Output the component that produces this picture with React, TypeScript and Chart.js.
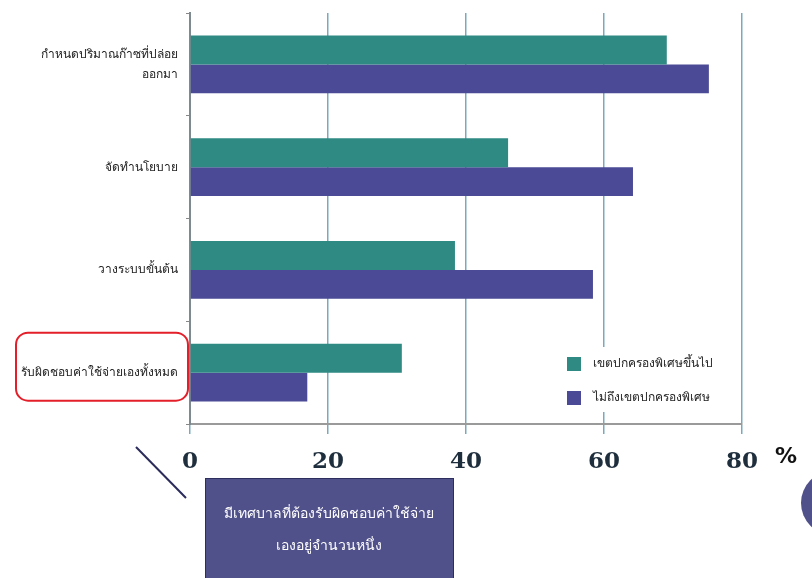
import { useEffect, useRef } from "react";
import { Chart, registerables } from "chart.js";
Chart.register(...registerables);

const categories: (string | string[])[] = [
  ["กำหนดปริมาณก๊าซที่ปล่อย", "ออกมา"],
  "จัดทำนโยบาย",
  "วางระบบขั้นต้น",
  "รับผิดชอบค่าใช้จ่ายเองทั้งหมด",
];
const seriesNames = ["เขตปกครองพิเศษขึ้นไป", "ไม่ถึงเขตปกครองพิเศษ"];
const specialAbove = [69.1, 46.1, 38.4, 30.7];
const belowSpecial = [75.2, 64.2, 58.4, 17.0];
const seriesColors = ["#2f8a84", "#4a4a96"];
const xMin = 0;
const xMax = 80;
const xStep = 20;
const unitLabel = "%";
const calloutLines = ["มีเทศบาลที่ต้องรับผิดชอบค่าใช้จ่าย", "เองอยู่จำนวนหนึ่ง"];

const THAI_FONT = "'Noto Sans', 'DejaVu Sans', sans-serif";

const decorPlugin = {
  id: "decor",
  afterDraw(chart: any) {
    const ctx: CanvasRenderingContext2D = chart.ctx;
    const ys = chart.scales.y;
    const area = chart.chartArea;
    ctx.save();

    // legend box inside chart area (bottom-right)
    const lx = area.right - 186;
    const ly = area.bottom - 77;
    ctx.fillStyle = "#ffffff";
    ctx.fillRect(lx, ly, 181, 65);
    ctx.font = `12px ${THAI_FONT}`;
    ctx.textBaseline = "middle";
    ctx.textAlign = "left";
    chart.data.datasets.forEach((ds: any, i: number) => {
      const sy = ly + 17 + i * 34;
      ctx.fillStyle = ds.backgroundColor;
      ctx.fillRect(lx + 11, sy - 7, 14, 14);
      ctx.fillStyle = "#222";
      ctx.fillText(ds.label, lx + 37, sy);
    });

    // unit label
    ctx.font = "bold 22px 'DejaVu Sans', sans-serif";
    ctx.fillStyle = "#111";
    ctx.textAlign = "center";
    ctx.fillText(unitLabel, area.right + 44, area.bottom + 33);

    // red rounded highlight around last category label
    const cy = ys.getPixelForValue(3);
    ctx.strokeStyle = "#e41f2a";
    ctx.lineWidth = 2;
    ctx.beginPath();
    (ctx as any).roundRect(16, cy - 40, 172, 68, 12);
    ctx.stroke();

    // diagonal pointer
    ctx.strokeStyle = "#2b2b5c";
    ctx.lineWidth = 2;
    ctx.beginPath();
    ctx.moveTo(136, 447);
    ctx.lineTo(186, 498);
    ctx.stroke();

    // callout box
    ctx.fillStyle = "#50508a";
    ctx.fillRect(205, 478, 248, 110);
    ctx.strokeStyle = "#2e2e5e";
    ctx.lineWidth = 1;
    ctx.strokeRect(205.5, 478.5, 248, 110);
    ctx.fillStyle = "#ffffff";
    ctx.font = `14px ${THAI_FONT}`;
    ctx.textAlign = "center";
    calloutLines.forEach((t, i) => ctx.fillText(t, 329, 514 + i * 32));

    // partial circle at right edge
    ctx.fillStyle = "#50508a";
    ctx.beginPath();
    ctx.arc(833, 503, 32, 0, Math.PI * 2);
    ctx.fill();

    ctx.restore();
  },
};

export default function App() {
  const ref = useRef<HTMLCanvasElement>(null);
  useEffect(() => {
    if (!ref.current) return;
    const chart = new Chart(ref.current, {
      type: "bar",
      data: {
        labels: categories,
        datasets: [
          { label: seriesNames[0], data: specialAbove, backgroundColor: seriesColors[0] },
          { label: seriesNames[1], data: belowSpecial, backgroundColor: seriesColors[1] },
        ],
      },
      options: {
        indexAxis: "y",
        animation: false,
        responsive: false,
        maintainAspectRatio: false,
        layout: { padding: { top: 13, right: 70, left: 0, bottom: 0 } },
        datasets: { bar: { barPercentage: 1, categoryPercentage: 0.56 } },
        plugins: { legend: { display: false }, tooltip: { enabled: false } },
        scales: {
          x: {
            min: xMin,
            max: xMax,
            ticks: {
              stepSize: xStep,
              color: "#1e2e3c",
              font: { family: "'DejaVu Serif', serif", size: 23, weight: "bold" },
              padding: 14,
            },
            grid: { color: "#7aa9bd", lineWidth: 1.5, tickLength: 10 },
            border: { color: "#9a9a9a", width: 2 },
            afterFit(scale: any) {
              scale.height = 154;
              scale.paddingLeft = 0;
              scale.paddingRight = 0;
            },
          },
          y: {
            ticks: {
              color: "#222",
              font: { family: THAI_FONT, size: 12, lineHeight: 1.65 },
              padding: 8,
            },
            grid: { drawOnChartArea: false, tickLength: 4, color: "#888", offset: true },
            border: { color: "#7d8a90", width: 2 },
            afterFit(scale: any) {
              scale.width = 190;
              scale.paddingTop = 0;
              scale.paddingBottom = 0;
            },
          },
        },
      },
      plugins: [decorPlugin],
    } as any);
    return () => chart.destroy();
  }, []);
  return (
    <div style={{ position: "fixed", left: 0, top: 0, width: 812, height: 578, background: "#fff" }}>
      <canvas ref={ref} width={812} height={578} />
    </div>
  );
}
